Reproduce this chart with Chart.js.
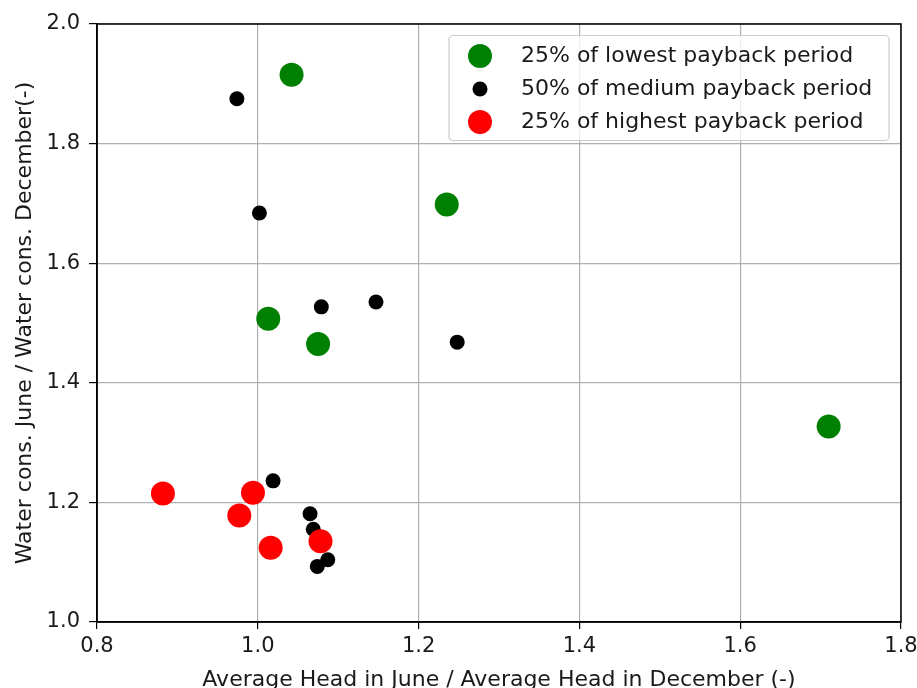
<!DOCTYPE html>
<html>
<head>
<meta charset="utf-8">
<script src="https://cdn.jsdelivr.net/npm/chart.js@4/dist/chart.umd.min.js"></script>
<style>
  html, body { margin: 0; padding: 0; background: #ffffff; }
  #wrap { width: 917px; height: 688px; }
</style>
</head>
<body>
<div id="wrap"><canvas id="scatter" width="917" height="688"></canvas></div>
<script>
// values
const lowX  = [1.042, 1.235, 1.013, 1.075, 1.710];
const lowY  = [1.915, 1.698, 1.507, 1.465, 1.327];

const medX  = [0.974, 1.002, 1.079, 1.147, 1.248, 1.019, 1.065, 1.069, 1.087, 1.074];
const medY  = [1.875, 1.684, 1.527, 1.535, 1.468, 1.236, 1.181, 1.155, 1.104, 1.093];

const highX = [0.882, 0.994, 0.977, 1.016, 1.078];
const highY = [1.215, 1.216, 1.178, 1.124, 1.135];

const seriesNames = [
  "25% of lowest payback period",
  "50% of medium payback period",
  "25% of highest payback period"
];
const seriesColors = ["#008000", "#000000", "#ff0000"];
const seriesRadius = [12, 7.5, 12];

const xTicks = [0.8, 1.0, 1.2, 1.4, 1.6, 1.8];
const yTicks = [1.0, 1.2, 1.4, 1.6, 1.8, 2.0];

const FONT = "DejaVu Sans";

function toPoints(xs, ys)
{
    let pts = [];
    for (let i = 0; i < xs.length; i++)
    {
        pts.push({x: xs[i], y: ys[i]});
    }
    return pts;
}

// frame round the plot area, like the matplotlib spines
const framePlugin = {
    id: "frame",
    afterDraw(chart) {
        const a = chart.chartArea;
        const ctx = chart.ctx;
        ctx.save();
        ctx.strokeStyle = "#000000";
        ctx.lineWidth = 1.5;
        ctx.strokeRect(a.left, a.top, a.right - a.left, a.bottom - a.top);
        ctx.restore();
    }
};

// legend box in the upper right corner
const legendPlugin = {
    id: "boxLegend",
    afterDraw(chart) {
        const ctx = chart.ctx;
        const x0 = 449, y0 = 35.5, w = 440, h = 105, r = 4;
        ctx.save();
        ctx.beginPath();
        ctx.roundRect(x0, y0, w, h, r);
        ctx.fillStyle = "rgba(255,255,255,0.8)";
        ctx.fill();
        ctx.strokeStyle = "#cccccc";
        ctx.lineWidth = 1.2;
        ctx.stroke();
        ctx.font = "22px '" + FONT + "'";
        ctx.textBaseline = "middle";
        ctx.textAlign = "left";
        for (let i = 0; i < seriesNames.length; i++)
        {
            const cy = 56 + i * 33;
            ctx.beginPath();
            ctx.arc(480, cy, seriesRadius[i], 0, Math.PI * 2);
            ctx.fillStyle = seriesColors[i];
            ctx.fill();
            ctx.fillStyle = "#1a1a1a";
            ctx.fillText(seriesNames[i], 521, cy);
        }
        ctx.restore();
    }
};

const datasets = [
    {
        label: seriesNames[0],
        data: toPoints(lowX, lowY),
        backgroundColor: seriesColors[0],
        borderWidth: 0,
        pointRadius: seriesRadius[0],
        order: 3
    },
    {
        label: seriesNames[1],
        data: toPoints(medX, medY),
        backgroundColor: seriesColors[1],
        borderWidth: 0,
        pointRadius: seriesRadius[1],
        order: 2
    },
    {
        label: seriesNames[2],
        data: toPoints(highX, highY),
        backgroundColor: seriesColors[2],
        borderWidth: 0,
        pointRadius: seriesRadius[2],
        order: 1
    }
];

const config = {
    type: "scatter",
    data: { datasets: datasets },
    options: {
        responsive: false,
        animation: false,
        layout: { padding: { left: 0, top: 24, right: 16, bottom: 0 } },
        plugins: {
            legend: { display: false },
            tooltip: { enabled: false }
        },
        scales: {
            x: {
                type: "linear",
                min: 0.8,
                max: 1.8,
                afterBuildTicks: (axis) => { axis.ticks = xTicks.map(v => ({value: v})); },
                afterFit: (axis) => {
                    axis.height = 66;
                    axis.paddingLeft = 0;
                    axis.paddingRight = 0;
                },
                ticks: {
                    color: "#1a1a1a",
                    font: { family: FONT, size: 21 },
                    padding: 5,
                    maxRotation: 0,
                    callback: (v) => Number(v).toFixed(1)
                },
                grid: { color: "#b0b0b0", lineWidth: 1.2, tickColor: "#000000", tickLength: 7 },
                border: { color: "#000000", width: 1.5 },
                title: {
                    display: true,
                    text: "Average Head in June / Average Head in December (-)",
                    color: "#1a1a1a",
                    font: { family: FONT, size: 22 },
                    padding: { top: 0, bottom: -5 }
                }
            },
            y: {
                type: "linear",
                min: 1.0,
                max: 2.0,
                afterBuildTicks: (axis) => { axis.ticks = yTicks.map(v => ({value: v})); },
                afterFit: (axis) => {
                    axis.width = 97;
                    axis.paddingTop = 0;
                    axis.paddingBottom = 0;
                },
                ticks: {
                    color: "#1a1a1a",
                    font: { family: FONT, size: 21 },
                    padding: 9,
                    callback: (v) => Number(v).toFixed(1)
                },
                grid: { color: "#b0b0b0", lineWidth: 1.2, tickColor: "#000000", tickLength: 8 },
                border: { color: "#000000", width: 1.5 },
                title: {
                    display: true,
                    text: "Water cons. June / Water cons. December(-)",
                    color: "#1a1a1a",
                    font: { family: FONT, size: 22 },
                    padding: { top: 12, bottom: 0 }
                }
            }
        }
    },
    plugins: [framePlugin, legendPlugin]
};

new Chart(document.getElementById("scatter"), config);
</script>
</body>
</html>
